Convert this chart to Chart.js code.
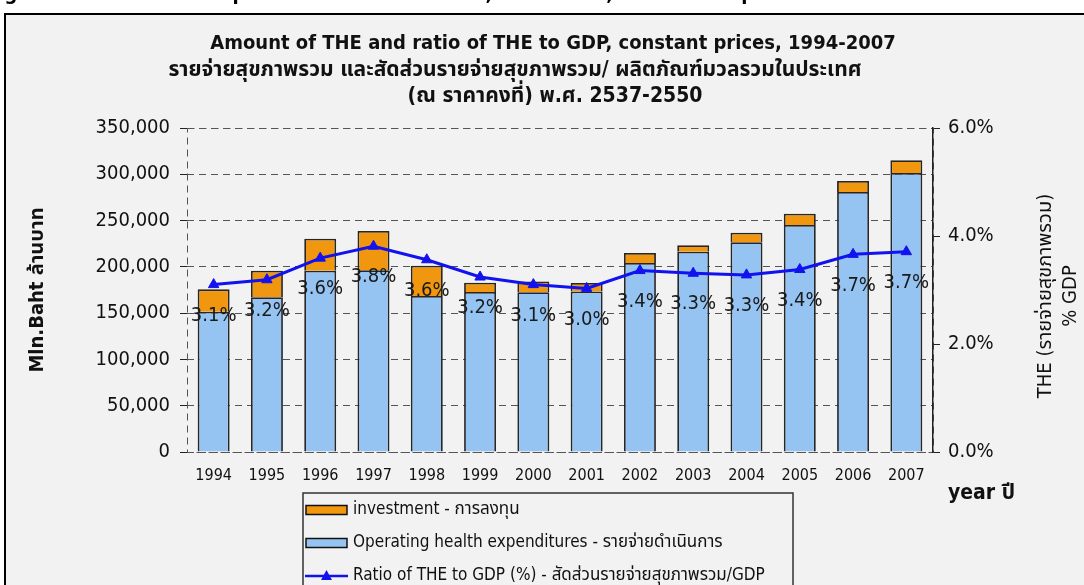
<!DOCTYPE html>
<html>
<head>
<meta charset="utf-8">
<script src="https://cdn.jsdelivr.net/npm/chart.js@4/dist/chart.umd.min.js"></script>
<style>
html,body{margin:0;padding:0;background:#fff;overflow:hidden}
#wrap{position:relative;width:1084px;height:585px}
canvas{display:block}
</style>
</head>
<body>
<div id="wrap"><canvas id="c" width="1084" height="585"></canvas></div>
<script>
// ---- data ----
const years = ['1994','1995','1996','1997','1998','1999','2000','2001','2002','2003','2004','2005','2006','2007'];
const operating = [151500,167100,195900,196300,168500,172800,172500,173500,204200,216400,226500,245200,280900,301400];
const investment = [24200,28700,34500,42400,32700,10100,11800,9000,10800,6900,10400,12300,11900,13700];
const ratioPct = [3.10,3.19,3.59,3.81,3.56,3.24,3.10,3.03,3.36,3.31,3.28,3.38,3.66,3.71];
const leftTicks = [0,50000,100000,150000,200000,250000,300000,350000];
const rightTicks = [0,2,4,6];

const titleLines = [
  'Amount of THE and ratio of THE to GDP, constant prices, 1994-2007',
  'รายจ่ายสุขภาพรวม และสัดส่วนรายจ่ายสุขภาพรวม/ ผลิตภัณฑ์มวลรวมในประเทศ',
  '(ณ ราคาคงที่) พ.ศ. 2537-2550'
];
const leftAxisTitle = 'Mln.Baht ล้านบาท';
const rightAxisTitle = ['THE (รายจ่ายสุขภาพรวม)', '% GDP'];
const xAxisTitle = 'year ปี';
const captionText = 'Figure 1  Total health expenditure in million Baht, 1994-2007, at constant prices';
const seriesNames = [
  'Operating health expenditures - รายจ่ายดำเนินการ',
  'investment - การลงทุน',
  'Ratio of THE to GDP (%) - สัดส่วนรายจ่ายสุขภาพรวม/GDP'
];

// ---- styles ----
const FONT = "'DejaVu Sans Condensed','DejaVu Sans','Noto Sans Thai','Loma','Garuda',sans-serif";
const BLUE_BAR = '#96c4f2';
const ORANGE = '#f0960f';
const LINE_BLUE = '#1212ee';
const EDGE = '#262626';
const BG = '#f2f2f2';
const GRID = '#555555';

const framePlugin = {
  id: 'framePlugin',
  beforeDraw(chart) {
    const ctx = chart.ctx;
    ctx.save();
    ctx.fillStyle = '#ffffff';
    ctx.fillRect(0, 0, chart.width, chart.height);
    // partially visible caption above the frame
    ctx.fillStyle = '#000';
    ctx.font = 'bold 20px ' + FONT;
    ctx.textAlign = 'left';
    ctx.textBaseline = 'alphabetic';
    ctx.fillText(captionText, -14, 0);
    // frame
    ctx.fillStyle = BG;
    ctx.fillRect(5, 14, chart.width + 20, chart.height + 20);
    ctx.strokeStyle = '#000';
    ctx.lineWidth = 2;
    ctx.strokeRect(5, 14, chart.width + 20, chart.height + 20);
    // dashed plot-area border
    const a = chart.chartArea;
    ctx.strokeStyle = GRID;
    ctx.lineWidth = 1;
    ctx.setLineDash([7, 5]);
    ctx.strokeRect(Math.round(a.left) + 0.5, Math.round(a.top) + 0.5, Math.round(a.right - a.left), Math.round(a.bottom - a.top));
    ctx.restore();
  },
  afterDraw(chart) {
    const ctx = chart.ctx;
    const a = chart.chartArea;
    ctx.save();
    ctx.fillStyle = '#111';
    ctx.textBaseline = 'middle';
    ctx.textAlign = 'center';
    // titles
    ctx.font = 'bold 20px ' + FONT;
    ctx.fillText(titleLines[0], 553, 44);
    ctx.font = 'bold 21px ' + FONT;
    ctx.fillText(titleLines[1], 515, 71);
    ctx.fillText(titleLines[2], 555, 97);
    // x axis title
    ctx.textAlign = 'right';
    ctx.font = 'bold 21px ' + FONT;
    ctx.fillText(xAxisTitle, 1015, 494);
    // right axis title, rotated
    ctx.font = '20px ' + FONT;
    ctx.textAlign = 'center';
    const cy = (a.top + a.bottom) / 2 + 6;
    [1046, 1071].forEach((x, i) => {
      ctx.save();
      ctx.translate(x, cy);
      ctx.rotate(-Math.PI / 2);
      ctx.fillText(rightAxisTitle[i], 0, 0);
      ctx.restore();
    });
    // legend box
    const ds = chart.data.datasets;
    ctx.fillStyle = BG;
    ctx.strokeStyle = '#333';
    ctx.lineWidth = 1.5;
    ctx.fillRect(303, 493, 490, 120);
    ctx.strokeRect(303, 493, 490, 120);
    ctx.textAlign = 'left';
    ctx.font = '17px ' + FONT;
    const rows = [
      {d: ds[1], y: 510, kind: 'box'},
      {d: ds[0], y: 543, kind: 'box'},
      {d: ds[2], y: 576, kind: 'line'}
    ];
    rows.forEach(r => {
      if (r.kind === 'box') {
        ctx.fillStyle = r.d.backgroundColor;
        ctx.fillRect(306, r.y - 4.5, 41, 9);
        ctx.strokeStyle = '#111';
        ctx.lineWidth = 1.5;
        ctx.strokeRect(306, r.y - 4.5, 41, 9);
      } else {
        ctx.strokeStyle = r.d.borderColor;
        ctx.lineWidth = 2.5;
        ctx.beginPath();
        ctx.moveTo(305, r.y);
        ctx.lineTo(348, r.y);
        ctx.stroke();
        ctx.fillStyle = r.d.borderColor;
        ctx.beginPath();
        ctx.moveTo(326.5, r.y - 6);
        ctx.lineTo(332, r.y + 4);
        ctx.lineTo(321, r.y + 4);
        ctx.closePath();
        ctx.fill();
      }
      ctx.fillStyle = '#111';
      ctx.fillText(r.d.label, 353, r.y);
    });
    ctx.restore();
  },
  afterDatasetsDraw(chart) {
    const ctx = chart.ctx;
    const meta = chart.getDatasetMeta(2);
    const vals = chart.data.datasets[2].data;
    ctx.save();
    ctx.fillStyle = '#1a1a1a';
    ctx.font = '20px ' + FONT;
    ctx.textAlign = 'center';
    ctx.textBaseline = 'middle';
    meta.data.forEach((pt, i) => {
      ctx.fillText(vals[i].toFixed(1) + '%', pt.x, pt.y + 31);
    });
    ctx.restore();
  }
};

new Chart(document.getElementById('c'), {
  type: 'bar',
  data: {
    labels: years,
    datasets: [
      {
        label: seriesNames[0], data: operating, backgroundColor: BLUE_BAR,
        borderColor: EDGE, borderWidth: 1.8, stack: 's', yAxisID: 'y', order: 2,
        categoryPercentage: 1.0, barPercentage: 0.6
      },
      {
        label: seriesNames[1], data: investment, backgroundColor: ORANGE,
        borderColor: EDGE, borderWidth: 1.8, stack: 's', yAxisID: 'y', order: 2,
        categoryPercentage: 1.0, barPercentage: 0.6
      },
      {
        type: 'line', label: seriesNames[2], data: ratioPct, yAxisID: 'y1', order: 0,
        borderColor: LINE_BLUE, backgroundColor: LINE_BLUE, borderWidth: 3,
        pointStyle: 'triangle', pointRadius: 6, pointHoverRadius: 6,
        pointBackgroundColor: LINE_BLUE, pointBorderColor: LINE_BLUE, pointBorderWidth: 1,
        tension: 0, fill: false
      }
    ]
  },
  options: {
    responsive: false,
    animation: false,
    events: [],
    layout: { padding: { top: 128, bottom: 93, left: 0, right: 0 } },
    plugins: { legend: { display: false }, title: { display: false }, tooltip: { enabled: false } },
    scales: {
      x: {
        stacked: true,
        offset: true,
        grid: { display: false, drawTicks: false },
        border: { display: false },
        ticks: { color: '#111', font: { family: FONT, size: 16 }, padding: 14, maxRotation: 0, autoSkip: false },
        afterFit(s) { s.height = 40; }
      },
      y: {
        stacked: true,
        position: 'left',
        min: 0, max: 350000,
        afterBuildTicks(s) { s.ticks = leftTicks.map(v => ({value: v})); },
        grid: { color: GRID, lineWidth: 1, drawTicks: true, tickLength: 7, tickColor: '#222', tickWidth: 1 },
        border: { display: false, dash: [7, 5] },
        ticks: {
          color: '#111', font: { family: FONT, size: 20 }, padding: 10,
          callback: v => v.toLocaleString('en-US')
        },
        title: { display: true, text: leftAxisTitle, color: '#111', font: { family: FONT, size: 20, weight: 'bold' }, padding: { top: 26, bottom: 0 } },
        afterFit(s) { s.width = 187; }
      },
      y1: {
        position: 'right',
        min: 0, max: 6,
        afterBuildTicks(s) { s.ticks = rightTicks.map(v => ({value: v})); },
        grid: { drawOnChartArea: false, drawTicks: true, tickLength: 7, tickColor: '#222', tickWidth: 1 },
        border: { display: true, color: '#222', width: 1.5 },
        ticks: { color: '#111', font: { family: FONT, size: 20 }, padding: 8, callback: v => v.toFixed(1) + '%' },
        afterFit(s) { s.width = 151; }
      }
    }
  },
  plugins: [framePlugin]
});
</script>
</body>
</html>
